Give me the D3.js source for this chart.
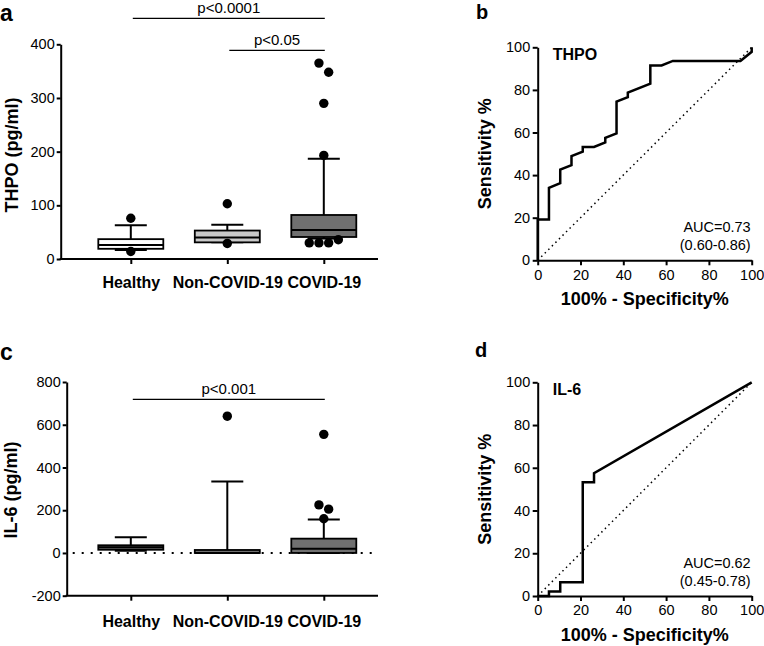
<!DOCTYPE html>
<html>
<head>
<meta charset="utf-8">
<script src="https://cdn.jsdelivr.net/npm/d3@7"></script>
<style>
  body { margin: 0; background: #fff; }
  svg { display: block; }
</style>
</head>
<body>
<script>
// ---- data ----
var groups = ['Healthy', 'Non-COVID-19', 'COVID-19'];

// [q1, median, q3] and [low whisker, high whisker] per group
var thpoQuartiles = [[19, 26, 37], [31, 40, 53], [41, 54, 82]];
var thpoWhiskers = [[17, 63], [31, 64], [38, 187]];
var thpoOutliers = [[76, 14], [103, 29], [365, 348, 290, 193, 30, 30, 30, 36]];
var thpoTicks = [0, 100, 200, 300, 400];
var thpoSig = [
    {from: 'Healthy', to: 'COVID-19', label: 'p<0.0001'},
    {from: 'Non-COVID-19', to: 'COVID-19', label: 'p<0.05'}
];

var il6Quartiles = [[15, 27, 36], [0, 0, 14], [0, 20, 67]];
var il6Whiskers = [[10, 74], [0, 334], [0, 157]];
var il6Outliers = [[], [640], [555, 225, 205, 160]];
var il6Ticks = [-200, 0, 200, 400, 600, 800];
var il6Sig = [
    {from: 'Healthy', to: 'COVID-19', label: 'p<0.001'}
];

// ROC curves: 100% - specificity (x) vs sensitivity (y)
var thpoRocX = [0, 0, 5.26, 5.26, 10.53, 10.53, 15.79, 15.79, 21.05, 21.05, 26.32, 31.58,
    31.58, 36.84, 36.84, 42.11, 42.11, 52.63, 52.63, 57.89, 63.16, 94.74, 100, 100];
var thpoRocY = [0, 19.15, 19.15, 34.04, 36.17, 42.55, 44.68, 48.94, 51.06, 53.19, 53.19, 55.32,
    57.45, 59.57, 74.47, 76.6, 78.72, 82.98, 91.49, 91.49, 93.62, 93.62, 97.87, 100];
var thpoAuc = ['AUC=0.73', '(0.60-0.86)'];

var il6RocX = [0, 5.26, 5.26, 10.53, 10.53, 21.05, 21.05, 26.32, 26.32, 100];
var il6RocY = [0, 0, 2.13, 2.13, 6.38, 6.38, 53.19, 53.19, 57.45, 100];
var il6Auc = ['AUC=0.62', '(0.45-0.78)'];

var rocTicks = [0, 20, 40, 60, 80, 100];

// ---- drawing ----
var FONT = '"Liberation Sans", Arial, Helvetica, sans-serif';
var svg = d3.select('body').append('svg')
    .attr('width', 764)
    .attr('height', 646)
    .style('font-family', FONT);

// plain hyphen for negatives, like the original
var plain = function(d) { return String(d); };

function styleAxis(sel, fontSize, bold) {
    sel.attr('font-family', FONT).attr('font-size', fontSize);
    sel.select('.domain').attr('stroke', '#000').attr('stroke-width', 2);
    sel.selectAll('.tick line').attr('stroke', '#000').attr('stroke-width', 2);
    sel.selectAll('.tick text').attr('fill', '#000')
        .attr('font-weight', bold ? 'bold' : 'normal');
}

/**
 * Lay dots of one group out in rows: points closer than one dot step
 * share a row and are spread symmetrically around the group centre.
 */
function swarm(values, y, step, cx) {
    var rows = [];
    values.forEach(function(v) {
        var py = y(v);
        var row = rows.find(function(r) { return Math.abs(r.y - py) < step; });
        if (!row) { row = {y: py, pts: []}; rows.push(row); }
        row.pts.push(py);
    });
    var out = [];
    rows.forEach(function(r) {
        r.pts.forEach(function(py, i) {
            out.push({x: cx + (i - (r.pts.length - 1) / 2) * step, y: py});
        });
    });
    return out;
}

function boxPanel(o) {
    var g = svg.append('g');
    var y = d3.scaleLinear().domain(o.domain).range([o.bottom, o.top]);
    var x = d3.scalePoint().domain(groups).range([o.firstX, o.lastX]);
    var half = 32.5, cap = 16;

    if (o.zeroLine) {
        g.append('line')
            .attr('x1', o.left + 6).attr('x2', o.right)
            .attr('y1', y(0)).attr('y2', y(0))
            .attr('stroke', '#000').attr('stroke-width', 2)
            .attr('stroke-dasharray', '2,7');
    }

    // boxes + whiskers
    groups.forEach(function(name, i) {
        var cx = x(name), q = o.quartiles[i], w = o.whiskers[i];
        var bg = g.append('g').attr('stroke', '#000').attr('stroke-width', 2);
        bg.append('line').attr('x1', cx).attr('x2', cx).attr('y1', y(q[2])).attr('y2', y(w[1]));
        bg.append('line').attr('x1', cx).attr('x2', cx).attr('y1', y(q[0])).attr('y2', y(w[0]));
        bg.append('line').attr('x1', cx - cap).attr('x2', cx + cap).attr('y1', y(w[1])).attr('y2', y(w[1]));
        bg.append('line').attr('x1', cx - cap).attr('x2', cx + cap).attr('y1', y(w[0])).attr('y2', y(w[0]));
        bg.append('rect')
            .attr('x', cx - half).attr('width', half * 2)
            .attr('y', y(q[2])).attr('height', Math.max(y(q[0]) - y(q[2]), 0.5))
            .attr('fill', o.fills[i])
            .attr('stroke-width', 1.8);
        bg.append('line').attr('x1', cx - half).attr('x2', cx + half).attr('y1', y(q[1])).attr('y2', y(q[1]));
    });

    // outlier dots
    groups.forEach(function(name, i) {
        g.selectAll(null).data(swarm(o.outliers[i], y, 9.7, x(name))).enter()
            .append('circle')
            .attr('cx', function(d) { return d.x; })
            .attr('cy', function(d) { return d.y; })
            .attr('r', 4.7)
            .attr('fill', '#000');
    });

    // axes
    var ya = g.append('g').attr('transform', 'translate(' + o.left + ',0)')
        .call(d3.axisLeft(y).tickValues(o.ticks).tickFormat(plain)
            .tickSize(4).tickPadding(2).tickSizeOuter(0));
    styleAxis(ya, 14.5, false);

    var xa = g.append('g').attr('transform', 'translate(0,' + o.bottom + ')')
        .call(d3.axisBottom(x).tickSize(5).tickPadding(o.catPad).tickSizeOuter(0));
    xa.select('.domain').remove();
    styleAxis(xa, 16, true);
    g.append('line')
        .attr('x1', o.left - 1).attr('x2', o.right)
        .attr('y1', o.bottom).attr('y2', o.bottom)
        .attr('stroke', '#000').attr('stroke-width', 2);

    // y label
    g.append('text')
        .attr('transform', 'translate(' + o.labelX + ',' + o.labelY + ') rotate(-90)')
        .attr('text-anchor', 'middle')
        .attr('font-weight', 'bold')
        .attr('font-size', 18)
        .text(o.yLabel);

    // significance bars
    o.sig.forEach(function(s, i) {
        var x1 = x(s.from) + 2, x2 = x(s.to) + 1, sy = o.sigY[i];
        g.append('line')
            .attr('x1', x1).attr('x2', x2).attr('y1', sy).attr('y2', sy)
            .attr('stroke', '#000').attr('stroke-width', 1.3);
        g.append('text')
            .attr('x', (x1 + x2) / 2).attr('y', sy - 5.5)
            .attr('text-anchor', 'middle')
            .attr('font-size', 15)
            .text(s.label);
    });

    g.append('text')
        .attr('x', o.letterX).attr('y', o.letterY)
        .attr('font-weight', 'bold')
        .attr('font-size', 23)
        .text(o.letter);
}

function rocPanel(o) {
    var g = svg.append('g');
    var x = d3.scaleLinear().domain([0, 100]).range([o.left, o.right]);
    var y = d3.scaleLinear().domain([0, 100]).range([o.bottom, o.top]);

    g.append('line')
        .attr('x1', x(0)).attr('y1', y(0)).attr('x2', x(100)).attr('y2', y(100))
        .attr('stroke', '#000').attr('stroke-width', 1.5)
        .attr('stroke-dasharray', '1.5,3.5');

    var line = d3.line()
        .x(function(d) { return x(d[0]); })
        .y(function(d) { return y(d[1]); });
    g.append('path')
        .datum(d3.zip(o.rocX, o.rocY))
        .attr('d', line)
        .attr('fill', 'none')
        .attr('stroke', '#000')
        .attr('stroke-width', 2.5);

    var ya = g.append('g').attr('transform', 'translate(' + o.left + ',0)')
        .call(d3.axisLeft(y).tickValues(rocTicks).tickSize(5).tickPadding(2.5).tickSizeOuter(0));
    styleAxis(ya, 14.5, false);
    var xa = g.append('g').attr('transform', 'translate(0,' + o.bottom + ')')
        .call(d3.axisBottom(x).tickValues(rocTicks).tickSize(5).tickPadding(4).tickSizeOuter(0));
    styleAxis(xa, 14.5, false);

    g.append('text')
        .attr('x', o.left + 15).attr('y', o.top + 13)
        .attr('font-weight', 'bold').attr('font-size', 16)
        .text(o.title);

    g.selectAll(null).data(o.auc).enter().append('text')
        .attr('x', o.right - 1)
        .attr('y', function(d, i) { return o.bottom - 28.5 + i * 18.5; })
        .attr('text-anchor', 'end')
        .attr('font-size', 14.5)
        .text(function(d) { return d; });

    g.append('text')
        .attr('transform', 'translate(' + o.labelX + ',' + ((o.top + o.bottom) / 2) + ') rotate(-90)')
        .attr('text-anchor', 'middle')
        .attr('font-weight', 'bold').attr('font-size', 18)
        .text('Sensitivity %');

    g.append('text')
        .attr('x', (o.left + o.right) / 2).attr('y', o.bottom + 45)
        .attr('text-anchor', 'middle')
        .attr('font-weight', 'bold').attr('font-size', 18)
        .text('100% - Specificity%');

    g.append('text')
        .attr('x', o.letterX).attr('y', o.letterY)
        .attr('font-weight', 'bold').attr('font-size', 20)
        .text(o.letter);
}

boxPanel({
    letter: 'a', letterX: 0, letterY: 21,
    domain: [0, 400], ticks: thpoTicks,
    top: 44.3, bottom: 259, left: 60.7, right: 378,
    firstX: 130.8, lastX: 323.8, catPad: 13,
    quartiles: thpoQuartiles, whiskers: thpoWhiskers, outliers: thpoOutliers,
    fills: ['#ffffff', '#c8c8c8', '#707070'],
    yLabel: 'THPO (pg/ml)', labelX: 18, labelY: 155,
    sig: thpoSig, sigY: [18.3, 50.3]
});

rocPanel({
    letter: 'b', letterX: 476, letterY: 18.5,
    left: 537.7, right: 751.7, top: 47.3, bottom: 260.3,
    rocX: thpoRocX, rocY: thpoRocY, auc: thpoAuc, title: 'THPO',
    labelX: 490.5
});

boxPanel({
    letter: 'c', letterX: 0, letterY: 359.5,
    domain: [-200, 800], ticks: il6Ticks,
    top: 382, bottom: 595.7, left: 66.7, right: 378,
    firstX: 130.8, lastX: 323.8, catPad: 15,
    quartiles: il6Quartiles, whiskers: il6Whiskers, outliers: il6Outliers,
    fills: ['#707070', '#707070', '#707070'],
    yLabel: 'IL-6 (pg/ml)', labelX: 17, labelY: 490,
    sig: il6Sig, sigY: [399.3],
    zeroLine: true
});

rocPanel({
    letter: 'd', letterX: 475, letterY: 356.5,
    left: 537.7, right: 751.7, top: 382.3, bottom: 596,
    rocX: il6RocX, rocY: il6RocY, auc: il6Auc, title: 'IL-6',
    labelX: 490.5
});
</script>
</body>
</html>
